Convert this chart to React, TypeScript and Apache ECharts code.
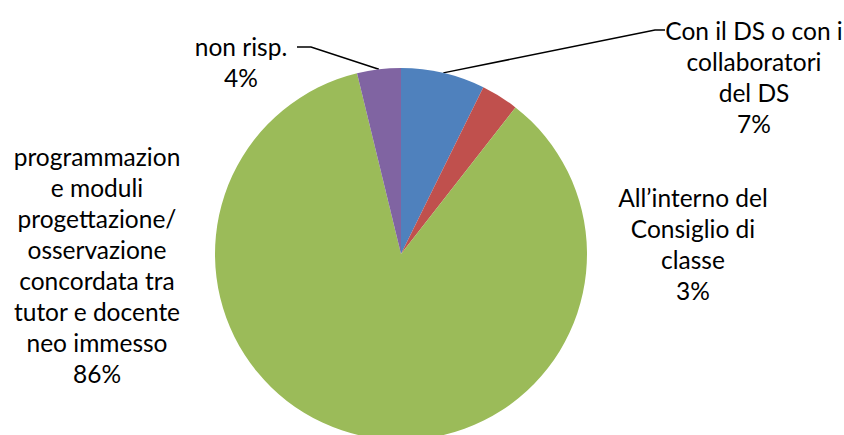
import React, { useEffect, useRef } from "react";
import * as echarts from "echarts";

const categories = [
  "Con il DS o con i collaboratori del DS",
  "All’interno del Consiglio di classe",
  "programmazione moduli progettazione/osservazione concordata tra tutor e docente neo immesso",
  "non risp.",
];
const labelTexts = [
  "Con il DS o con i\ncollaboratori\ndel DS",
  "All’interno del\nConsiglio di\nclasse",
  "programmazion\ne moduli\nprogettazione/\nosservazione\nconcordata tra\ntutor e docente\nneo immesso",
  "non risp.",
];
const values = [7.3, 3.25, 85.65, 3.8];
const colors = ["#4F81BD", "#C0504D", "#9BBB59", "#8064A2"];
const showLines = [true, false, false, true];

// label anchor (center) positions in px
const labelPos = [
  [754, 77],
  [693, 244],
  [97, 265],
  [241, 62],
];
// leader line bends: [elbow, end]
const linePts: Record<number, number[][]> = {
  0: [
    [655, 30],
    [665, 30],
  ],
  3: [
    [311, 47],
    [297, 47],
  ],
};

export default function App() {
  const ref = useRef<HTMLDivElement>(null);
  useEffect(() => {
    document.body.style.margin = "0";
    const chart = echarts.init(ref.current!, null, { renderer: "svg" });
    chart.setOption({
      animation: false,
      backgroundColor: "#ffffff",
      series: [
        {
          type: "pie",
          center: [401, 254],
          radius: 186,
          startAngle: 90,
          clockwise: true,
          avoidLabelOverlap: false,
          data: categories.map((name, i) => ({
            name,
            value: values[i],
            itemStyle: { color: colors[i] },
            labelLine: { show: showLines[i] },
          })),
          label: {
            show: true,
            position: "outside",
            fontFamily: "Lato",
            fontSize: 24.5,
            lineHeight: 31,
            color: "#000",
            align: "center",
            formatter: (p: any) =>
              labelTexts[p.dataIndex] + "\n" + Math.round(p.percent) + "%",
          },
          labelLine: {
            show: true,
            lineStyle: { color: "#000", width: 1.5 },
          },
          labelLayout: (p: any) => {
            const i = p.dataIndex;
            const res: any = {
              x: labelPos[i][0],
              y: labelPos[i][1],
              align: "center",
              verticalAlign: "middle",
            };
            if (linePts[i] && p.labelLinePoints) {
              res.labelLinePoints = [p.labelLinePoints[0], ...linePts[i]];
            }
            return res;
          },
        },
      ],
    });
    return () => chart.dispose();
  }, []);
  return <div ref={ref} style={{ width: 844, height: 435 }} />;
}
